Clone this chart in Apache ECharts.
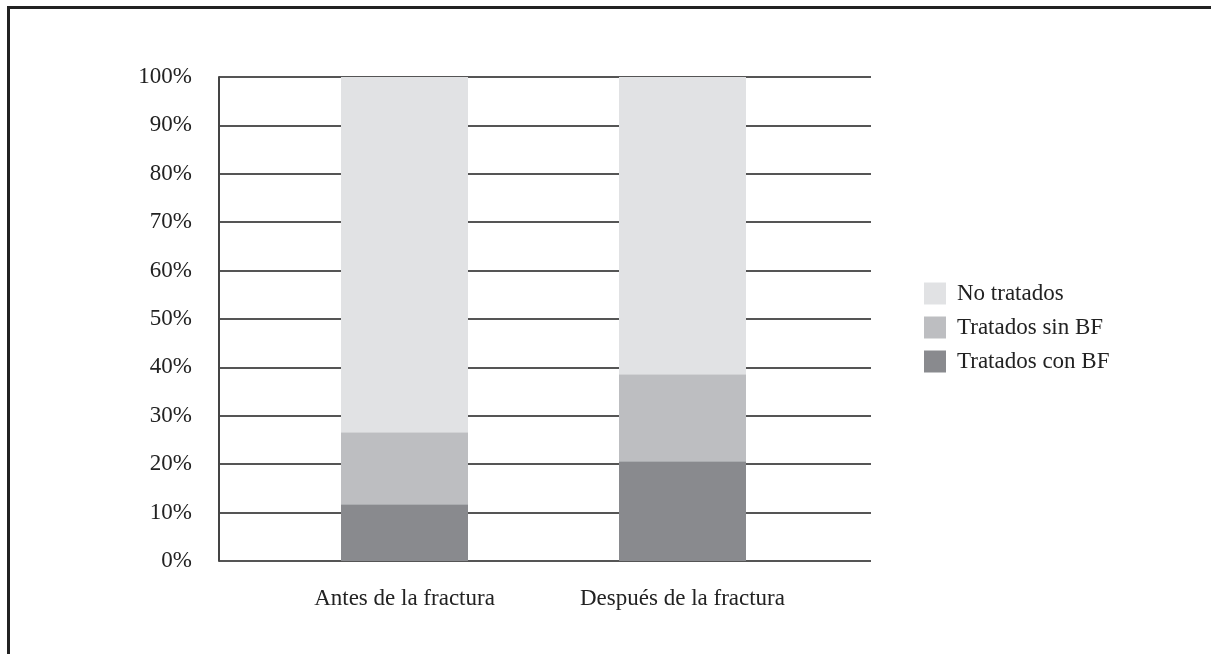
<!DOCTYPE html>
<html>
<head>
<meta charset="utf-8">
<script src="https://cdn.jsdelivr.net/npm/echarts@6/dist/echarts.min.js"></script>
<style>html,body{margin:0;padding:0;background:#fff}#c{width:1211px;height:654px}</style>
</head>
<body>
<div id="c"></div>
<script>
const categories = ['Antes de la fractura', 'Después de la fractura'];
const conBF = [11.7, 20.6];
const sinBF = [14.9, 18.0];
const noTratados = [73.4, 61.4];
const yTicks = [0, 10, 20, 30, 40, 50, 60, 70, 80, 90, 100];

const font = 'Liberation Serif';
const chart = echarts.init(document.getElementById('c'));
chart.setOption({
  animation: false,
  backgroundColor: '#fff',
  textStyle: { fontFamily: font },
  graphic: [{
    type: 'rect',
    shape: { x: 8.5, y: 7.5, width: 1400, height: 800 },
    style: { fill: 'none', stroke: '#222', lineWidth: 3 }
  }],
  grid: [
    { left: 219, right: 340, top: 77, bottom: 93 },
    { left: 265.5, right: 389.5, top: 77, bottom: 93 }
  ],
  legend: {
    orient: 'vertical', left: 919, top: 277,
    icon: 'rect',
    itemWidth: 22, itemHeight: 22, itemGap: 11,
    textStyle: { fontFamily: font, fontSize: 23, color: '#222', padding: [0, 0, 0, 6] },
    data: ['No tratados', 'Tratados sin BF', 'Tratados con BF']
  },
  xAxis: [
    { gridIndex: 0, type: 'category', data: [''], show: false },
    { gridIndex: 1, type: 'category', data: categories,
      axisLine: { show: false }, axisTick: { show: false },
      axisLabel: { fontFamily: font, fontSize: 23, color: '#222', margin: 26 } }
  ],
  yAxis: [
    { gridIndex: 0, type: 'value', min: 0, max: 100, interval: 10,
      axisLine: { show: true, lineStyle: { color: '#444', width: 2 } },
      axisTick: { show: false },
      axisLabel: { fontFamily: font, fontSize: 23, color: '#222', margin: 27,
        formatter: v => yTicks.indexOf(v) >= 0 ? v + '%' : '' },
      splitLine: { show: true, lineStyle: { color: '#555', width: 2 } } },
    { gridIndex: 1, type: 'value', min: 0, max: 100, show: false, splitLine: { show: false } }
  ],
  series: [
    { name: 'Tratados con BF', type: 'bar', stack: 's', xAxisIndex: 1, yAxisIndex: 1,
      barWidth: 127, data: conBF, itemStyle: { color: '#898a8e' } },
    { name: 'Tratados sin BF', type: 'bar', stack: 's', xAxisIndex: 1, yAxisIndex: 1,
      barWidth: 127, data: sinBF, itemStyle: { color: '#bdbec1' } },
    { name: 'No tratados', type: 'bar', stack: 's', xAxisIndex: 1, yAxisIndex: 1,
      barWidth: 127, data: noTratados, itemStyle: { color: '#e1e2e4' } }
  ]
});
</script>
</body>
</html>
